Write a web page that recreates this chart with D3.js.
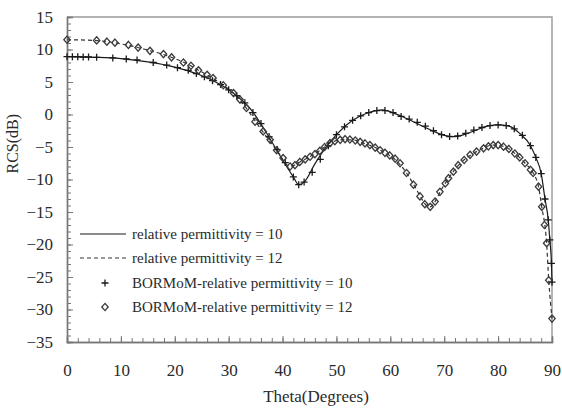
<!DOCTYPE html>
<html>
<head>
<meta charset="utf-8">
<script src="https://cdn.jsdelivr.net/npm/d3@7"></script>
<style>
  html, body { margin: 0; padding: 0; background: #fff; }
  svg { display: block; }
  text { font-family: "Liberation Serif", "DejaVu Serif", serif; fill: #2a2a2a; }
</style>
</head>
<body>
<svg id="chart" width="562" height="408"></svg>
<script>
// Analytic RCS curves (dB) versus incidence angle theta (degrees)
const lineTheta10 = [0, 5, 10, 15, 20, 24, 28, 31, 34, 37, 40, 42, 43, 44, 46, 48, 50, 53, 56, 58.5, 61, 64, 67, 70, 72, 75, 78, 80, 82, 84, 86, 87, 88, 88.7, 89.3, 89.6, 89.9, 90];
const lineRcs10   = [8.9, 8.8, 8.6, 8.1, 7.3, 6.3, 4.8, 3.2, 0.9, -2.8, -7.0, -9.6, -10.8, -10.4, -7.6, -5.1, -3.1, -0.9, 0.3, 0.7, 0.1, -1.0, -2.2, -3.2, -3.4, -2.7, -1.8, -1.6, -1.8, -2.9, -4.8, -6.6, -9.1, -13.0, -16.2, -19.3, -23.0, -26.0];

const lineTheta12 = [0, 5, 8, 11, 13, 15, 18, 20, 22, 24, 27, 29, 31, 33, 35, 37, 39, 41.4, 43, 45, 47, 49, 51, 53, 55, 57, 59, 61, 63, 64.5, 65.7, 66.7, 67.4, 68.3, 69.3, 70.8, 73, 75, 77, 79, 81, 83, 85, 86.5, 87.5, 88.1, 89, 89.4, 90];
const lineRcs12   = [11.5, 11.4, 11.15, 10.7, 10.35, 9.9, 9.2, 8.6, 7.9, 7.0, 5.6, 4.5, 3.2, 1.3, -1.1, -3.4, -5.6, -8.0, -7.4, -6.5, -5.5, -4.3, -3.9, -3.9, -4.4, -5.0, -5.9, -7.0, -9.0, -11.0, -12.8, -14.0, -14.2, -13.4, -11.8, -9.8, -7.5, -6.2, -5.3, -4.7, -4.9, -5.9, -7.5, -9.0, -11.1, -14.2, -19.8, -25.5, -31.4];

// BOR-MoM computed points
const momTheta10 = [0, 1, 2, 3, 4, 5.5, 8.5, 11, 13, 16, 18.5, 20.5, 22.5, 24, 25.5, 27, 28.5, 30, 31.5, 33, 34.5, 36, 37.5, 39, 40.5, 42, 43, 44, 45.5, 47, 48.5, 50, 51.5, 53, 54.5, 56, 57.5, 59, 60.5, 62, 63.5, 65, 66.5, 68, 69.5, 71, 72.5, 74, 75.5, 77, 78.5, 80, 81.5, 83, 84.5, 86, 87, 88, 88.7, 89.3, 89.6, 89.9, 90];
const momRcs10   = [8.9, 8.9, 8.9, 8.85, 8.85, 8.8, 8.7, 8.55, 8.4, 8.0, 7.6, 7.2, 6.8, 6.3, 5.8, 5.2, 4.6, 3.8, 2.9, 1.8, 0.3, -1.4, -3.4, -5.4, -7.4, -9.6, -10.8, -10.4, -8.9, -6.9, -4.8, -3.1, -1.9, -0.9, -0.2, 0.3, 0.6, 0.6, 0.3, -0.3, -0.7, -1.2, -1.8, -2.5, -3.1, -3.4, -3.3, -2.9, -2.4, -2.0, -1.7, -1.6, -1.7, -2.2, -3.2, -4.8, -6.6, -9.1, -13.0, -16.2, -19.3, -22.9, -25.8];

const momTheta12 = [0, 5.5, 7.4, 8.9, 11.4, 13.2, 15.4, 17.9, 19.4, 21.6, 23, 24.4, 26, 27.1, 29, 30.9, 32.1, 33.3, 34.9, 36.4, 37.7, 38.9, 40.1, 41.4, 42.3, 43.2, 44.2, 45.1, 46, 46.9, 47.8, 48.8, 49.7, 50.7, 51.6, 52.5, 53.5, 54.4, 55.3, 56.2, 57.2, 58.1, 59, 59.9, 60.9, 61.8, 63, 64.3, 65.5, 66.4, 67.4, 68.3, 69.2, 70.2, 70.8, 71.7, 72.6, 73.7, 74.8, 76, 77.3, 78.2, 79.1, 80, 81, 82, 83.1, 84, 85, 86, 86.5, 87.5, 88.1, 88.6, 89, 89.4, 90];
const momRcs12   = [11.5, 11.4, 11.2, 11.05, 10.7, 10.3, 9.8, 9.3, 8.8, 8.0, 7.5, 6.8, 6.1, 5.6, 4.5, 3.3, 2.3, 1.0, -1.1, -2.6, -3.9, -5.5, -6.7, -8.0, -7.8, -7.3, -6.9, -6.5, -6.1, -5.6, -5.0, -4.4, -4.1, -3.9, -3.8, -3.85, -4.0, -4.2, -4.45, -4.7, -5.1, -5.5, -5.9, -6.3, -6.8, -7.5, -9.0, -10.8, -12.6, -13.8, -14.2, -13.4, -11.9, -10.6, -9.8, -8.8, -7.8, -7.0, -6.2, -5.7, -5.2, -4.9, -4.7, -4.7, -4.95, -5.3, -6.0, -6.6, -7.5, -8.5, -9.0, -11.1, -14.2, -17.0, -19.8, -25.5, -31.4];

// Axis ticks and legend labels
const xTicks = [0, 10, 20, 30, 40, 50, 60, 70, 80, 90];
const yTicks = [15, 10, 5, 0, -5, -10, -15, -20, -25, -30, -35];
const legendLabels = [
  "relative permittivity = 10",
  "relative permittivity = 12",
  "BORMoM-relative permittivity = 10",
  "BORMoM-relative permittivity = 12"
];

const svg = d3.select("#chart");
const margin = { left: 67, top: 17, right: 10, bottom: 66 };
const W = 562 - margin.left - margin.right;
const H = 408 - margin.top - margin.bottom;

const x = d3.scaleLinear().domain([0, 90]).range([0, W]);
const y = d3.scaleLinear().domain([-35, 15]).range([H, 0]);

const g = svg.append("g").attr("transform", `translate(${margin.left},${margin.top})`);

// Frame on top and right
g.append("path")
  .attr("d", `M0,0H${W}V${H}`)
  .attr("fill", "none").attr("stroke", "#999").attr("stroke-width", 1.4);

// Minor ticks (inside)
const yMinor = g.append("g").call(d3.axisLeft(y).tickValues(d3.range(-35, 16, 1)).tickSize(-4).tickFormat(""));
const xMinor = g.append("g").attr("transform", `translate(0,${H})`)
  .call(d3.axisBottom(x).tickValues(d3.range(0, 91, 2)).tickSize(-4).tickFormat(""));

// Major ticks with labels
const yAxis = g.append("g").call(d3.axisLeft(y).tickValues(yTicks).tickSize(-6).tickPadding(14).tickFormat(d3.format("d")));
const xAxis = g.append("g").attr("transform", `translate(0,${H})`)
  .call(d3.axisBottom(x).tickValues(xTicks).tickSize(-6).tickPadding(22).tickFormat(d3.format("d")));

[yMinor, xMinor, yAxis, xAxis].forEach(a => {
  a.selectAll(".domain").attr("stroke", "#777").attr("stroke-width", 1.4);
  a.selectAll(".tick line").attr("stroke", "#777").attr("stroke-width", 1);
});
[yAxis, xAxis].forEach(a => a.selectAll("text")
  .attr("font-size", 17).attr("fill", "#2a2a2a")
  .style("font-family", "Liberation Serif, serif"));

// Axis titles
svg.append("text")
  .attr("transform", `translate(18,${margin.top + y(-4.5)}) rotate(-90)`)
  .attr("text-anchor", "middle")
  .attr("font-size", 16)
  .text("RCS(dB)");
svg.append("text")
  .attr("x", 316).attr("y", 402)
  .attr("text-anchor", "middle")
  .attr("font-size", 17)
  .text("Theta(Degrees)");

// Analytic curves
const line = d3.line().curve(d3.curveMonotoneX).x(d => x(d[0])).y(d => y(d[1]));
g.append("path")
  .datum(d3.zip(lineTheta10, lineRcs10))
  .attr("d", line)
  .attr("fill", "none").attr("stroke", "#1a1a1a").attr("stroke-width", 1.2);
g.append("path")
  .datum(d3.zip(lineTheta12, lineRcs12))
  .attr("d", line)
  .attr("fill", "none").attr("stroke", "#333").attr("stroke-width", 1.2)
  .attr("stroke-dasharray", "4,3");

// Marker shapes
const plusPath = "M-3.5,0H3.5M0,-3.5V3.5";
const diamondPath = "M0,-3.6L3.2,0L0,3.6L-3.2,0Z";

g.append("g").selectAll("path")
  .data(d3.zip(momTheta10, momRcs10))
  .join("path")
  .attr("transform", d => `translate(${x(d[0])},${y(d[1])})`)
  .attr("d", plusPath)
  .attr("fill", "none").attr("stroke", "#1a1a1a").attr("stroke-width", 1.3);

g.append("g").selectAll("path")
  .data(d3.zip(momTheta12, momRcs12))
  .join("path")
  .attr("transform", d => `translate(${x(d[0])},${y(d[1])})`)
  .attr("d", diamondPath)
  .attr("fill", "none").attr("stroke", "#3a3a3a").attr("stroke-width", 1.3);

// Legend
const legendY = [234, 258, 283, 307];
const lg = svg.append("g");
lg.append("line").attr("x1", 80).attr("x2", 126).attr("y1", legendY[0]).attr("y2", legendY[0])
  .attr("stroke", "#1a1a1a").attr("stroke-width", 1.2);
lg.append("line").attr("x1", 80).attr("x2", 128).attr("y1", legendY[1]).attr("y2", legendY[1])
  .attr("stroke", "#333").attr("stroke-width", 1.2).attr("stroke-dasharray", "4,3");
lg.append("path").attr("transform", `translate(105,${legendY[2]})`).attr("d", plusPath)
  .attr("fill", "none").attr("stroke", "#1a1a1a").attr("stroke-width", 1.3);
lg.append("path").attr("transform", `translate(105,${legendY[3]})`).attr("d", diamondPath)
  .attr("fill", "none").attr("stroke", "#3a3a3a").attr("stroke-width", 1.3);
lg.selectAll("text.lab")
  .data(legendLabels)
  .join("text")
  .attr("class", "lab")
  .attr("x", 132)
  .attr("y", (d, i) => legendY[i] + 5)
  .attr("font-size", 15)
  .text(d => d);
</script>
</body>
</html>
